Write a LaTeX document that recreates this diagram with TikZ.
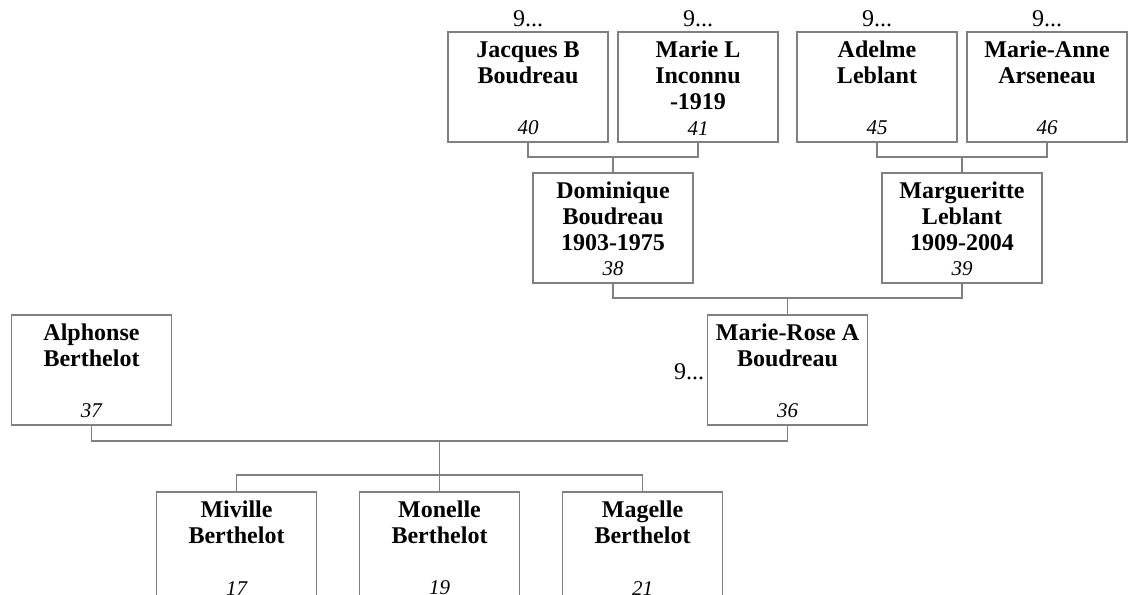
\documentclass[tikz,border=0pt]{standalone}
\usepackage{fontspec}
\setmainfont{Liberation Serif}
\usetikzlibrary{positioning}
\usetikzlibrary{calc}

\newcommand{\famcard}[2]{%
	\parbox[t][55pt][s]{80pt}{\centering\bfseries\rule{0pt}{12.5pt}#1\par\vfill
	\mdseries\itshape\fontsize{10.5}{12}\selectfont #2\par\vskip 3.5pt}}

\begin{document}
\begin{tikzpicture}[x=0.5pt, y=-0.5pt,
		node distance=5pt,
		every node/.style={font=\fontsize{12}{13}\selectfont},
		person/.style={draw=gray, line width=0.6pt, inner sep=0pt, outer sep=0pt,
			text height=12.5pt, text depth=42.5pt},
		link/.style={draw=gray, line width=0.6pt},
		more/.style={label={[inner sep=2.5pt]above:9...}}]
		\useasboundingbox (0,0) rectangle (1132,595);
		\clip (0,0) rectangle (1132,595);
		\node [person, more] (p40) at (528,87) {\famcard{Jacques B\\Boudreau}{40}};
		\node [person, more, right=of p40] (p41) {\famcard{Marie L\\Inconnu\\-1919}{41}};
		\node [person, more, right=9.5pt of p41] (p45) {\famcard{Adelme\\Leblant}{45}};
		\node [person, more, right=of p45] (p46) {\famcard{Marie-Anne\\Arseneau}{46}};
		\node [person, anchor=north] (p38) at ($(p40.south)!0.5!(p41.south)+(0,31)$) {\famcard{Dominique\\Boudreau\\1903-1975}{38}};
		\node [person, anchor=north] (p39) at ($(p45.south)!0.5!(p46.south)+(0,31)$) {\famcard{Margueritte\\Leblant\\1909-2004}{39}};
		\node [person, anchor=north,
			label={[inner sep=1.5pt, yshift=-1pt]left:9...}] (p36) at ($(p38.south)!0.5!(p39.south)+(0,32)$) {\famcard{Marie-Rose A\\Boudreau}{36}};
		\node [person, left=268pt of p36] (p37) {\famcard{Alphonse\\Berthelot}{37}};
		\node [person, anchor=north] (p19) at ($(p37.south)!0.5!(p36.south)+(0,67)$) {\famcard{Monelle\\Berthelot}{19}};
		\node [person, left=21.5pt of p19] (p17) {\famcard{Miville\\Berthelot}{17}};
		\node [person, right=21.5pt of p19] (p21) {\famcard{Magelle\\Berthelot}{21}};

		% parents -> child
		\draw [link] (p40.south) -- ++(0,15) -| (p41.south);
		\draw [link] ($(p40.south)!0.5!(p41.south)+(0,15)$) -- (p38.north);
		\draw [link] (p45.south) -- ++(0,15) -| (p46.south);
		\draw [link] ($(p45.south)!0.5!(p46.south)+(0,15)$) -- (p39.north);
		\draw [link] (p38.south) -- ++(0,15) -| (p39.south);
		\draw [link] ($(p38.south)!0.5!(p39.south)+(0,15)$) -- (p36.north);
		\draw [link] (p37.south) -- ++(0,16) -| (p36.south);
		\draw [link] ($(p37.south)!0.5!(p36.south)+(0,16)$) -- ++(0,34) coordinate (kids);
		\draw [link] (p17.north) |- (kids) -| (p21.north);
		\draw [link] (kids) -- (p19.north);
\end{tikzpicture}
\end{document}
